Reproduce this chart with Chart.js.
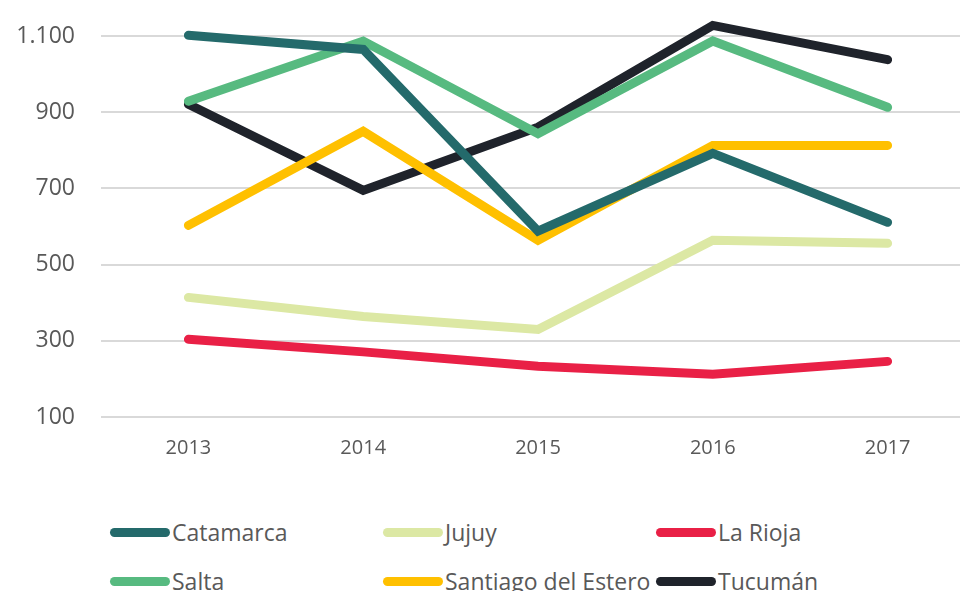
<!DOCTYPE html>
<html>
<head>
<meta charset="utf-8">
<script src="https://cdn.jsdelivr.net/npm/chart.js@4.4.1/dist/chart.umd.min.js"></script>
<style>
  html, body { margin: 0; padding: 0; background: #fff; overflow: hidden; width: 960px; height: 591px; }
  #wrap { position: absolute; left: 0; top: -2px; width: 975px; height: 460px; }
  .legend { position: absolute; font-family: "Open Sans", sans-serif; font-size: 23px; color: #595959; }
  .item { position: absolute; white-space: nowrap; display: flex; align-items: center; }
  .sw { display: inline-block; width: 60px; height: 9px; border-radius: 5px; margin-right: 2px; }
</style>
</head>
<body>
<div id="wrap"><canvas id="line-chart"></canvas></div>
<div class="legend" id="legend"></div>
<script>
const years = ["2013", "2014", "2015", "2016", "2017"];
const yTicks = [100, 300, 500, 700, 900, 1100];
const catamarca = [1102, 1065, 588, 792, 611];
const jujuy = [414, 364, 330, 564, 556];
const laRioja = [304, 271, 233, 212, 246];
const salta = [929, 1087, 844, 1087, 913];
const santiago = [603, 850, 564, 813, 813];
const tucuman = [921, 695, 861, 1128, 1038];

const series = [
  { label: "Catamarca", data: catamarca, color: "#246A6B" },
  { label: "Jujuy", data: jujuy, color: "#DCE8A4" },
  { label: "La Rioja", data: laRioja, color: "#E92046" },
  { label: "Salta", data: salta, color: "#57BA80" },
  { label: "Santiago del Estero", data: santiago, color: "#FFC000" },
  { label: "Tucumán", data: tucuman, color: "#1F232B" },
];

const lineChart = document.getElementById("line-chart");
new Chart(lineChart, {
  type: "line",
  data: {
    labels: years,
    datasets: series.map((s) => ({
      label: s.label,
      data: s.data,
      borderColor: s.color,
      backgroundColor: s.color,
      borderWidth: 9,
      borderCapStyle: "round",
      borderJoinStyle: "miter",
      pointRadius: 0,
      tension: 0,
    })),
  },
  options: {
    responsive: true,
    maintainAspectRatio: false,
    animation: false,
    layout: { padding: 0 },
    plugins: {
      legend: { display: false },
      tooltip: { enabled: false },
    },
    scales: {
      x: {
        offset: true,
        grid: { display: false, drawTicks: false },
        border: { display: false },
        ticks: {
          color: "#595959",
          font: { family: "Open Sans", size: 20 },
          padding: 19,
        },
        afterFit: (scale) => { scale.height = 41; },
      },
      y: {
        min: 100,
        max: 1200,
        grid: { color: "#d9d9d9", lineWidth: 2, drawTicks: false },
        border: { display: false },
        ticks: {
          color: "#595959",
          font: { family: "Open Sans", size: 23 },
          padding: 26,
          callback: (v) => v.toLocaleString("es-AR"),
        },
        afterBuildTicks: (scale) => { scale.ticks = yTicks.map((v) => ({ value: v })); },
        afterFit: (scale) => {
          scale.width = 101;
          scale.paddingTop = 0;
          scale.paddingBottom = 0;
        },
      },
    },
  },
});

// legend laid out in Excel-style columns
const legend = document.getElementById("legend");
series.forEach((s, i) => {
  const item = document.createElement("div");
  item.className = "item";
  item.style.left = 110 + (i % 3) * 273 + "px";
  item.style.top = 516 + Math.floor(i / 3) * 49 + "px";
  item.innerHTML = `<span class="sw" style="background:${s.color}"></span><span>${s.label}</span>`;
  legend.appendChild(item);
});
</script>
</body>
</html>
